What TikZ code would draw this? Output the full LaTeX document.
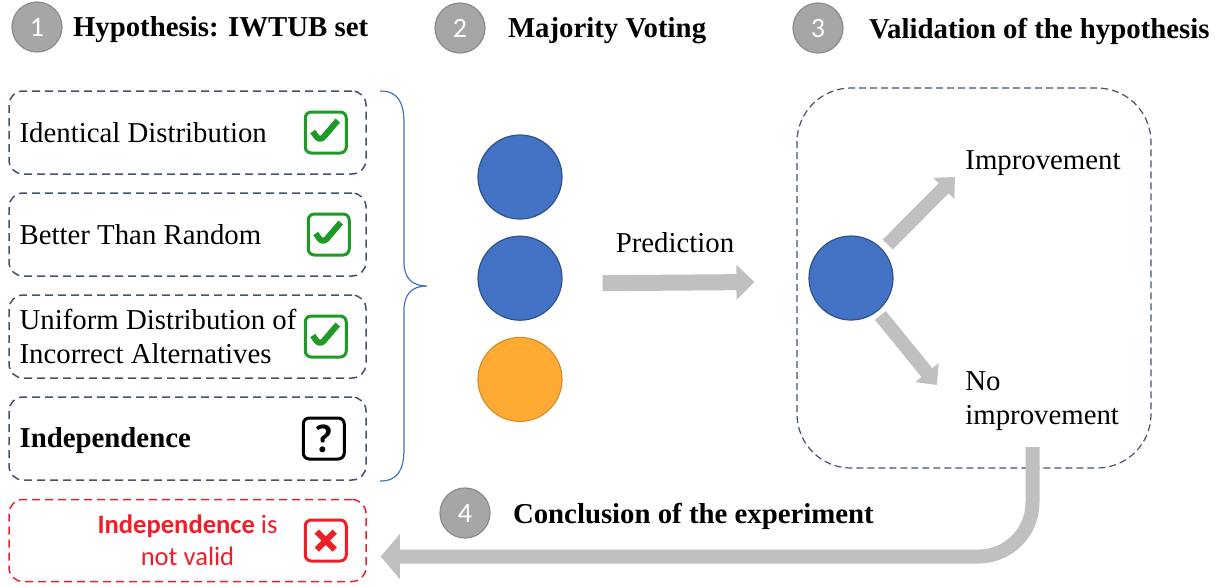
\documentclass[tikz,border=0pt]{standalone}
\usepackage{fontspec}
\setmainfont{Liberation Serif}
\newfontfamily\calibri{Carlito}
\usetikzlibrary{positioning,arrows.meta}

\definecolor{boxedge}{HTML}{44546A}
\definecolor{bracecol}{HTML}{4472C4}
\definecolor{votefill}{HTML}{4472C4}
\definecolor{voteedge}{HTML}{2F528F}
\definecolor{voteorange}{HTML}{FFAA33}
\definecolor{orangeedge}{HTML}{D98E2B}
\definecolor{stepfill}{HTML}{A6A6A6}
\definecolor{stepedge}{HTML}{8C8C8C}
\definecolor{arrowfill}{HTML}{C0C0C0}
\definecolor{okgreen}{HTML}{1F9A26}
\definecolor{nored}{HTML}{F01E28}

\begin{document}
\begin{tikzpicture}[x=0.5pt,y=-0.5pt,
	every node/.style={font=\rmfamily\fontsize{14.4}{17}\selectfont},
	stepno/.style={circle,fill=stepfill,draw=stepedge,line width=0.6pt,minimum size=25pt,inner sep=0pt,text=white,font=\calibri\fontsize{14}{14}\selectfont},
	heading/.style={inner sep=0pt,yshift=-1.5pt,font=\rmfamily\bfseries\fontsize{14.4}{17}\selectfont},
	hypbox/.style={draw=boxedge,dash pattern=on 4pt off 2.5pt,line width=0.75pt,rounded corners=7pt,minimum width=178.5pt,minimum height=41.5pt},
	hyptext/.style={inner xsep=5.5pt,inner ysep=0pt,align=left,node distance=0pt},
	iconbox/.style={draw=okgreen,line width=1.5pt,rounded corners=3pt,minimum size=20.5pt,inner sep=0pt},
	okmark/.style={iconbox,path picture={\draw[okgreen,line width=3pt,line join=round] ([shift={(-6.5pt,0.5pt)}]path picture bounding box.center) -- ++(3.5pt,-5pt) -- ++(9pt,10.5pt);}},
	nokmark/.style={iconbox,draw=nored,path picture={\draw[nored,line width=3pt] ([shift={(-4.5pt,-4.5pt)}]path picture bounding box.center) -- ++(9pt,9pt) ([shift={(-4.5pt,4.5pt)}]path picture bounding box.center) -- ++(9pt,-9pt);}},
	vote/.style={circle,minimum size=42pt,inner sep=0pt,fill=votefill,draw=voteedge,line width=0.6pt},
	valbox/.style={draw=boxedge,dash pattern=on 3.5pt off 2pt,line width=0.6pt,rounded corners=27pt,minimum width=177pt,minimum height=190pt},
	blockarrow/.style={line width=8pt,draw=arrowfill,-{Triangle[length=9pt,width=17pt]}},
	diagarrow/.style={line width=7pt,draw=arrowfill,-{Triangle[length=8pt,width=14.5pt]}},
	bigarrow/.style={line width=7pt,draw=arrowfill,rounded corners=27pt,-{Triangle[length=9.5pt,width=22pt]}}]
	\useasboundingbox (0,0) rectangle (1220,586);

	% step headings
	\node[stepno]									(s1)	at (37,27)	{1};
	\node[heading,node distance=5pt,right=of s1]		(h1)	{Hypothesis: IWTUB set};
	\node[stepno]									(s2)	at (460,28)	{2};
	\node[heading,node distance=11pt,right=of s2]		(h2)	{Majority Voting};
	\node[stepno]									(s3)	at (818,28)	{3};
	\node[heading,node distance=12.5pt,right=of s3]	(h3)	{Validation of the hypothesis};

	% hypotheses
	\node[hypbox]									(hyp1)	at (187.5,132.5)	{};
	\node[hypbox,node distance=8.75pt,below=of hyp1]	(hyp2)	{};
	\node[hypbox,node distance=8.75pt,below=of hyp2]	(hyp3)	{};
	\node[hypbox,node distance=8.75pt,below=of hyp3]	(hyp4)	{};
	\node[hypbox,draw=nored,minimum height=41pt,node distance=9pt,below=of hyp4]	(verdict)	{};

	\node[hyptext,right=of hyp1.west]	(t1)	{Identical Distribution};
	\node[hyptext,right=of hyp2.west]	(t2)	{Better Than Random};
	\node[hyptext,right=of hyp3.west]	(t3)	{Uniform Distribution of\\Incorrect Alternatives};
	\node[hyptext,right=of hyp4.west,yshift=-1pt,font=\rmfamily\bfseries\fontsize{14.4}{17}\selectfont]	(t4)	{Independence};
	\node[align=center,text=nored,font=\calibri\fontsize{13.3}{16}\selectfont,inner sep=0pt]	(t5)	at (verdict.center)	{\textbf{Independence} is\\not valid};

	\node[okmark,node distance=9.5pt,left=of hyp1.east]	(ok1)	{};
	\node[okmark,node distance=8pt,left=of hyp2.east]	(ok2)	{};
	\node[okmark,node distance=9.5pt,left=of hyp3.east]	(ok3)	{};
	\node[iconbox,draw=black,font=\calibri\bfseries\fontsize{20}{20}\selectfont,node distance=10.5pt,left=of hyp4.east]	(ask)	{?};
	\node[nokmark,node distance=9.5pt,left=of verdict.east]	(nok)	{};

	\draw[bracecol,line width=0.6pt] (380,91) .. controls (398,91) and (404,102) .. (404,124) -- (404,262)
		.. controls (404,278) and (412,286) .. (427,286) .. controls (412,286) and (404,294) .. (404,310)
		-- (404,448) .. controls (404,470) and (398,481) .. (380,481);

	% majority voting
	\node[vote]										(v1)	at (520,177)	{};
	\node[vote,node distance=8pt,below=of v1]		(v2)	{};
	\node[vote,fill=voteorange,draw=orangeedge,node distance=8pt,below=of v2]	(v3)	{};
	\node											(pred)	at (675,243)	{Prediction};

	% validation
	\node[valbox]									(valbox)	at (974,278)	{};
	\node[vote]										(w)		at (851,278)	{};
	\node[anchor=west,inner sep=0pt]				(impr)	at (965,163)	{Improvement};
	\node[anchor=north west,inner sep=0pt,align=left]	(noimpr)	at (965,371)	{No\\improvement};
	\coordinate (upend) at (955,177);
	\coordinate (downend) at (937,385);

	\draw[blockarrow] ([xshift=20pt,yshift=-2.5pt]v2.east) -- ([xshift=-21pt,yshift=-2pt]valbox.west);
	\draw[diagarrow,shorten <=3.5pt] (w.42) -- (upend);
	\draw[diagarrow,shorten <=2.5pt] (w.-52) -- (downend);

	% conclusion
	\node[stepno]									(s4)	at (465,513)	{4};
	\node[heading,node distance=11pt,right=of s4]		(h4)	{Conclusion of the experiment};
	\coordinate (drop) at (1032.5,447);
	\draw[bigarrow] (drop) |- ([xshift=7pt,yshift=-8pt]verdict.east);
\end{tikzpicture}
\end{document}
